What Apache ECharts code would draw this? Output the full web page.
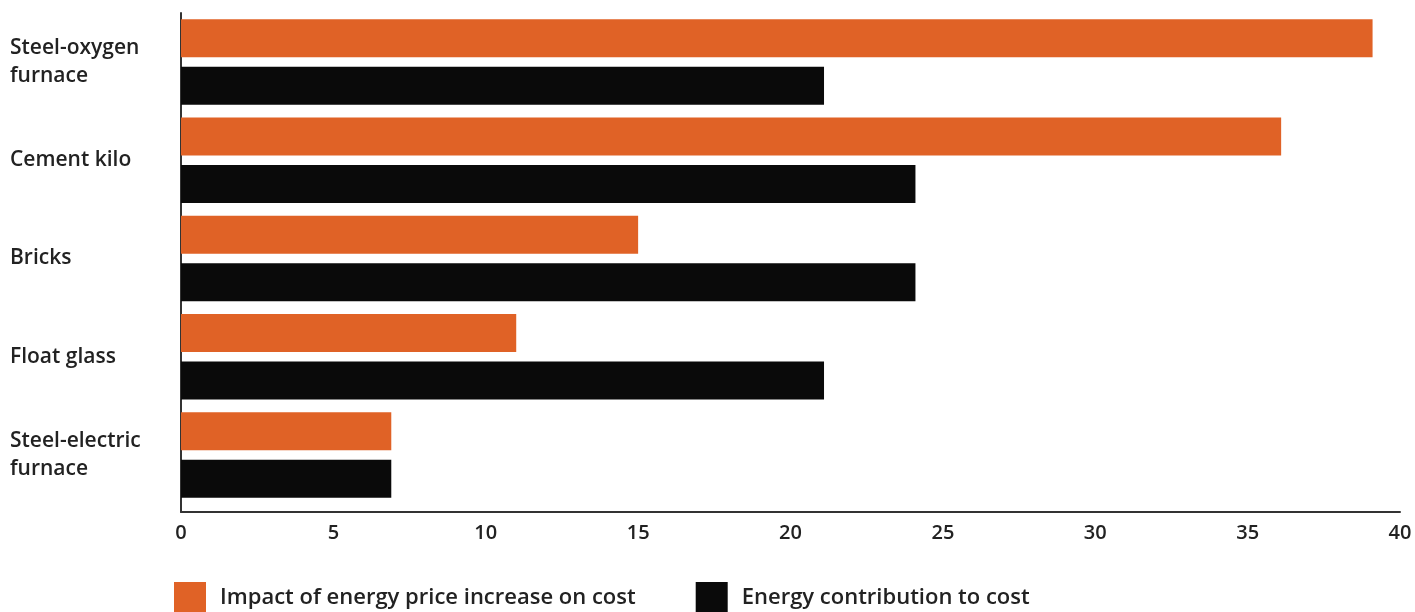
<!DOCTYPE html>
<html><head><meta charset="utf-8">
<script src="https://cdn.jsdelivr.net/npm/echarts@6/dist/echarts.min.js"></script>
<style>html,body{margin:0;padding:0;background:#fff}#c{width:1415px;height:612px}</style>
</head><body><div id="c"></div>
<script>
const categories = ["Steel-oxygen furnace", "Cement kilo", "Bricks", "Float glass", "Steel-electric furnace"];
const impactValues = [39.1, 36.1, 15.0, 11.0, 6.9];
const contributionValues = [21.1, 24.1, 24.1, 21.1, 6.9];
const seriesNames = ["Impact of energy price increase on cost", "Energy contribution to cost"];
const xTicks = [0, 5, 10, 15, 20, 25, 30, 35, 40];

const FONT = "'Open Sans', sans-serif";
const chart = echarts.init(document.getElementById('c'), null, {renderer: 'canvas'});
chart.setOption({
  animation: false,
  textStyle: {fontFamily: FONT},
  grid: [
    {left: 181, right: 15, top: 13, height: 491},
    {left: 181, right: 15, top: 13, bottom: 100}
  ],
  legend: {
    left: 174, top: 582, padding: 0,
    itemWidth: 32, itemHeight: 32, itemGap: 60,
    icon: 'rect',
    textStyle: {fontFamily: FONT, fontSize: 22, fontWeight: 600, color: '#222', padding: [0, 0, 0, 9]},
    data: seriesNames
  },
  xAxis: [
    {gridIndex: 0, type: 'value', min: xTicks[0], max: xTicks[xTicks.length - 1], interval: 5, show: false},
    {gridIndex: 1, type: 'value', min: xTicks[0], max: xTicks[xTicks.length - 1], interval: 5,
     axisLine: {show: true, lineStyle: {color: '#333', width: 2}},
     axisTick: {show: false}, splitLine: {show: false},
     axisLabel: {fontFamily: FONT, fontSize: 20, fontWeight: 600, color: '#222', margin: 11}}
  ],
  yAxis: [
    {gridIndex: 0, type: 'category', data: categories, inverse: true,
     axisLine: {show: false}, axisTick: {show: false},
     axisLabel: {fontFamily: FONT, fontSize: 21, fontWeight: 600, color: '#222', align: 'left', margin: 171,
                 width: 165, overflow: 'break', lineHeight: 28}},
    {gridIndex: 1, type: 'value', min: 0, max: 1, show: true,
     axisLine: {show: true, lineStyle: {color: '#333', width: 2}},
     axisTick: {show: false}, axisLabel: {show: false}, splitLine: {show: false}}
  ],
  series: [
    {name: seriesNames[0], type: 'bar', xAxisIndex: 0, yAxisIndex: 0, data: impactValues,
     barWidth: 38, barGap: '25%', itemStyle: {color: '#E06226'}},
    {name: seriesNames[1], type: 'bar', xAxisIndex: 0, yAxisIndex: 0, data: contributionValues,
     barWidth: 38, barGap: '25%', itemStyle: {color: '#0a0a0a'}}
  ]
});
</script></body></html>
